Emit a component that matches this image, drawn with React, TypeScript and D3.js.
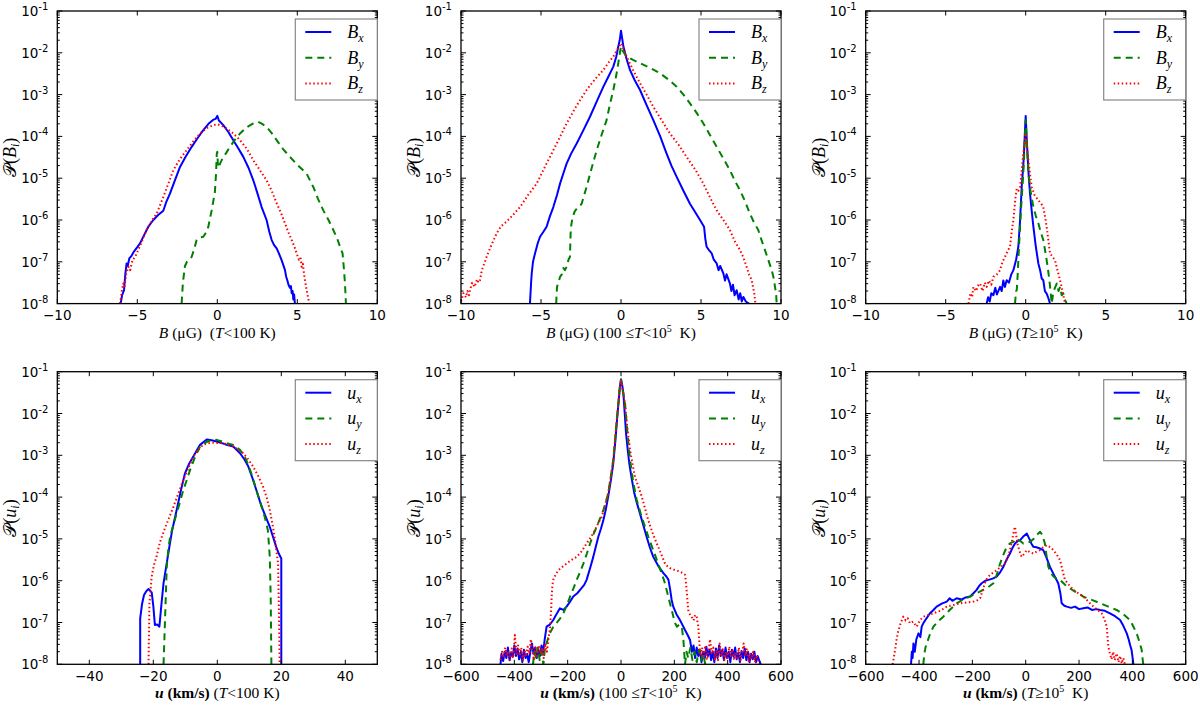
import * as d3 from "d3";

// each point: [value, log10 of the PDF]
type Pt = [number, number];

const B_TICKS = [-10, -5, 0, 5, 10];
const U_COLD_TICKS = [-40, -20, 0, 20, 40];
const U_TICKS = [-600, -400, -200, 0, 200, 400, 600];
const DECADES = [-8, -7, -6, -5, -4, -3, -2, -1];

// T < 100 K, magnetic field
const coldBx: Pt[] = [[-6.04,-8],[-5.95,-7.8],[-5.83,-7.68],[-5.75,-7.3],[-5.67,-7.04],[-5.6,-7.1],[-5.5,-6.92],[-5.35,-6.85],[-5.2,-6.75],[-5.0,-6.65],[-4.83,-6.56],[-4.6,-6.38],[-4.31,-6.16],[-4.0,-6.0],[-3.7,-5.88],[-3.375,-5.78],[-3.2,-5.58],[-2.96,-5.37],[-2.65,-5.05],[-2.33,-4.73],[-2.0,-4.5],[-1.6,-4.25],[-1.25,-4.05],[-0.875,-3.85],[-0.55,-3.7],[-0.25,-3.6],[-0.1,-3.58],[0,-3.51],[0.1,-3.62],[0.375,-3.73],[0.7,-3.9],[1.0,-4.09],[1.3,-4.28],[1.625,-4.49],[1.95,-4.75],[2.25,-5.05],[2.5,-5.35],[2.77,-5.69],[3.08,-6.0],[3.25,-6.28],[3.4,-6.48],[3.55,-6.6],[3.71,-6.68],[3.85,-6.8],[4.02,-6.96],[4.1,-7.05],[4.23,-7.2],[4.3,-7.35],[4.375,-7.44],[4.45,-7.55],[4.54,-7.62],[4.6,-7.58],[4.65,-7.75],[4.71,-7.7],[4.75,-7.9],[4.8,-7.78],[4.85,-8]];
const coldBy: Pt[] = [[-2.23,-8],[-2.15,-7.5],[-2.02,-7.1],[-1.9,-7.0],[-1.75,-6.95],[-1.6,-6.88],[-1.45,-6.7],[-1.29,-6.48],[-1.1,-6.42],[-0.875,-6.4],[-0.7,-6.3],[-0.56,-6.16],[-0.45,-5.95],[-0.35,-5.77],[-0.25,-5.55],[-0.15,-5.33],[-0.08,-4.9],[-0.03,-4.4],[0,-4.37],[0.04,-4.7],[0.1,-4.75],[0.17,-4.65],[0.375,-4.49],[0.55,-4.4],[0.79,-4.25],[1.1,-4.08],[1.42,-3.93],[1.85,-3.78],[2.25,-3.69],[2.56,-3.65],[2.8,-3.7],[3.08,-3.77],[3.4,-3.92],[3.71,-4.09],[4.1,-4.3],[4.54,-4.49],[5.0,-4.68],[5.58,-4.89],[6.0,-5.21],[6.3,-5.5],[6.625,-5.77],[6.95,-6.0],[7.25,-6.24],[7.5,-6.45],[7.67,-6.64],[7.83,-6.8],[7.92,-7.2],[7.98,-7.52],[8.04,-8]];
const coldBz: Pt[] = [[-6.08,-8],[-6.0,-7.8],[-5.95,-7.65],[-5.875,-7.52],[-5.8,-7.6],[-5.7,-7.3],[-5.56,-7.12],[-5.45,-7.2],[-5.3,-6.95],[-5.15,-6.9],[-5.04,-6.8],[-4.8,-6.6],[-4.6,-6.4],[-4.42,-6.24],[-4.1,-6.02],[-3.79,-5.85],[-3.55,-5.62],[-3.375,-5.45],[-3.05,-5.12],[-2.75,-4.81],[-2.35,-4.55],[-1.92,-4.33],[-1.5,-4.12],[-1.08,-3.93],[-0.65,-3.8],[-0.25,-3.73],[0,-3.71],[0.3,-3.75],[0.58,-3.81],[1.0,-3.93],[1.42,-4.09],[1.85,-4.3],[2.25,-4.57],[2.65,-4.8],[3.08,-5.05],[3.4,-5.3],[3.71,-5.6],[4.0,-5.85],[4.23,-6.08],[4.45,-6.3],[4.65,-6.48],[4.8,-6.62],[4.96,-6.8],[5.1,-6.95],[5.2,-6.9],[5.27,-7.12],[5.35,-7.05],[5.42,-7.3],[5.48,-7.44],[5.55,-7.6],[5.625,-7.76],[5.7,-7.9],[5.75,-8]];

// 100 <= T < 1e5 K, magnetic field
const warmBx: Pt[] = [[-5.69,-8],[-5.62,-7.5],[-5.58,-7.28],[-5.5,-7.0],[-5.375,-6.8],[-5.2,-6.55],[-5.06,-6.4],[-4.85,-6.28],[-4.65,-6.16],[-4.45,-5.92],[-4.23,-5.69],[-4.0,-5.4],[-3.81,-5.13],[-3.6,-4.88],[-3.4,-4.65],[-3.1,-4.4],[-2.77,-4.17],[-2.35,-3.85],[-1.94,-3.53],[-1.5,-3.15],[-1.1,-2.81],[-0.8,-2.58],[-0.48,-2.33],[-0.3,-2.1],[-0.17,-1.85],[-0.08,-1.7],[0,-1.47],[0.07,-1.65],[0.15,-1.85],[0.35,-2.15],[0.56,-2.41],[0.85,-2.65],[1.19,-2.89],[1.6,-3.25],[2.02,-3.61],[2.45,-4.0],[2.85,-4.41],[3.15,-4.7],[3.48,-4.97],[3.9,-5.3],[4.31,-5.61],[4.65,-5.82],[4.94,-6.0],[5.19,-6.16],[5.27,-6.45],[5.35,-6.64],[5.5,-6.72],[5.67,-6.8],[5.8,-6.95],[5.98,-7.04],[6.1,-7.2],[6.2,-7.1],[6.4,-7.28],[6.5,-7.45],[6.6,-7.3],[6.81,-7.52],[6.9,-7.7],[7.0,-7.55],[7.1,-7.8],[7.23,-7.68],[7.35,-7.9],[7.45,-7.75],[7.55,-7.95],[7.65,-7.84],[7.8,-7.95],[8.0,-8]];
const warmBy: Pt[] = [[-4.05,-8],[-4.0,-7.6],[-3.9,-7.48],[-3.81,-7.36],[-3.7,-7.3],[-3.6,-7.15],[-3.5,-7.2],[-3.4,-7.12],[-3.28,-6.95],[-3.19,-6.88],[-3.15,-6.32],[-3.1,-6.1],[-3.02,-5.93],[-2.9,-5.8],[-2.77,-5.73],[-2.6,-5.68],[-2.46,-5.61],[-2.3,-5.4],[-2.15,-5.21],[-1.85,-4.78],[-1.52,-4.33],[-1.2,-3.95],[-0.9,-3.61],[-0.7,-3.25],[-0.48,-2.89],[-0.3,-2.55],[-0.17,-2.25],[-0.07,-2.0],[0,-1.85],[0.1,-1.95],[0.35,-2.09],[0.75,-2.17],[1.19,-2.25],[1.8,-2.36],[2.44,-2.49],[3.0,-2.65],[3.48,-2.81],[3.9,-3.0],[4.31,-3.21],[4.75,-3.45],[5.15,-3.69],[5.55,-3.96],[5.98,-4.25],[6.4,-4.53],[6.81,-4.81],[7.1,-5.05],[7.44,-5.29],[7.75,-5.55],[8.06,-5.85],[8.3,-6.05],[8.58,-6.24],[8.8,-6.5],[9.0,-6.72],[9.2,-6.95],[9.42,-7.2],[9.55,-7.4],[9.625,-7.6],[9.7,-7.8],[9.73,-8]];
const warmBz: Pt[] = [[-10,-7.95],[-9.85,-7.75],[-9.69,-7.85],[-9.6,-7.7],[-9.5,-7.8],[-9.44,-7.68],[-9.3,-7.5],[-9.15,-7.6],[-9.0,-7.42],[-8.9,-7.5],[-8.81,-7.44],[-8.7,-7.2],[-8.55,-7.05],[-8.4,-6.88],[-8.1,-6.6],[-7.77,-6.32],[-7.5,-6.15],[-7.15,-6.04],[-6.75,-5.88],[-6.31,-5.69],[-5.8,-5.4],[-5.27,-5.13],[-4.85,-4.8],[-4.44,-4.49],[-3.9,-4.08],[-3.4,-3.69],[-2.8,-3.28],[-2.15,-2.89],[-1.6,-2.62],[-1.1,-2.41],[-0.75,-2.22],[-0.48,-2.09],[-0.2,-1.9],[0,-1.77],[0.15,-1.9],[0.35,-2.09],[0.75,-2.41],[1.19,-2.73],[1.6,-3.0],[2.02,-3.29],[2.55,-3.62],[3.06,-3.93],[3.6,-4.2],[4.1,-4.49],[4.65,-4.8],[5.15,-5.13],[5.55,-5.45],[5.98,-5.77],[6.4,-6.0],[6.81,-6.24],[7.1,-6.5],[7.44,-6.72],[7.65,-6.9],[7.85,-7.12],[8.0,-7.3],[8.17,-7.44],[8.25,-7.6],[8.33,-7.76],[8.4,-8]];

// T >= 1e5 K, magnetic field
const hotBx: Pt[] = [[-2.44,-8],[-2.35,-7.85],[-2.25,-7.95],[-2.15,-7.75],[-2.02,-7.8],[-1.9,-7.62],[-1.8,-7.78],[-1.6,-7.6],[-1.5,-7.7],[-1.4,-7.45],[-1.3,-7.6],[-1.19,-7.44],[-1.05,-7.5],[-0.9,-7.3],[-0.77,-7.2],[-0.6,-6.95],[-0.46,-6.64],[-0.35,-6.0],[-0.25,-5.21],[-0.15,-4.7],[-0.1,-4.33],[-0.05,-3.9],[0,-3.51],[0.05,-3.95],[0.1,-4.33],[0.18,-4.9],[0.27,-5.37],[0.38,-5.8],[0.48,-6.16],[0.62,-6.6],[0.79,-7.04],[0.9,-7.2],[1.0,-7.4],[1.1,-7.44],[1.2,-7.7],[1.31,-7.76],[1.4,-7.85],[1.52,-8]];
const hotBy: Pt[] = [[-0.67,-8],[-0.6,-7.7],[-0.56,-7.68],[-0.5,-7.3],[-0.46,-6.96],[-0.4,-6.5],[-0.31,-5.85],[-0.22,-5.3],[-0.15,-4.89],[-0.07,-4.2],[0,-3.61],[0.08,-4.2],[0.17,-4.89],[0.3,-5.3],[0.48,-5.69],[0.63,-5.9],[0.79,-6.08],[0.95,-6.3],[1.1,-6.48],[1.2,-6.7],[1.31,-6.96],[1.4,-7.2],[1.48,-7.44],[1.55,-7.7],[1.625,-8],[1.7,-7.8],[1.8,-7.65],[1.94,-7.52],[2.05,-7.7],[2.15,-7.6],[2.25,-7.8],[2.35,-7.76],[2.45,-7.9],[2.56,-8]];
const hotBz: Pt[] = [[-3.58,-8],[-3.45,-7.75],[-3.35,-7.85],[-3.27,-7.6],[-3.1,-7.7],[-2.95,-7.55],[-2.85,-7.52],[-2.7,-7.7],[-2.55,-7.5],[-2.44,-7.6],[-2.3,-7.45],[-2.15,-7.55],[-2.02,-7.36],[-1.8,-7.3],[-1.6,-7.2],[-1.45,-7.0],[-1.29,-6.88],[-1.1,-6.72],[-0.98,-6.64],[-0.88,-6.3],[-0.77,-6.0],[-0.65,-5.5],[-0.56,-5.25],[-0.45,-5.3],[-0.35,-5.21],[-0.27,-4.9],[-0.19,-4.57],[-0.1,-4.25],[0,-3.93],[0.08,-4.25],[0.17,-4.57],[0.27,-4.9],[0.375,-5.21],[0.55,-5.4],[0.79,-5.53],[0.95,-5.6],[1.1,-5.69],[1.2,-5.9],[1.31,-6.16],[1.42,-6.5],[1.52,-6.8],[1.68,-6.88],[1.83,-6.96],[1.95,-7.15],[2.04,-7.28],[2.15,-7.45],[2.25,-7.6],[2.35,-7.8],[2.46,-8]];

// T < 100 K, velocity
const coldUx: Pt[] = [[-24.1,-8],[-24.1,-6.9],[-23.5,-6.55],[-22.9,-6.34],[-22.2,-6.25],[-21.5,-6.2],[-20.5,-6.28],[-20.0,-6.6],[-19.5,-7.06],[-18.8,-7.05],[-18.1,-7.1],[-17.5,-6.6],[-16.8,-6.06],[-15.8,-5.58],[-15.0,-5.2],[-14.2,-4.83],[-12.7,-4.31],[-11.4,-3.85],[-10.1,-3.43],[-8.8,-3.2],[-7.5,-3.03],[-5.4,-2.75],[-3.3,-2.62],[-1.8,-2.64],[-0.2,-2.67],[1.5,-2.71],[2.9,-2.75],[5.0,-2.79],[7.1,-2.95],[8.5,-3.1],[9.7,-3.27],[11.0,-3.55],[12.2,-3.83],[13.3,-4.1],[14.3,-4.31],[15.4,-4.52],[16.4,-4.71],[17.4,-4.95],[18.4,-5.19],[19.2,-5.35],[20.0,-5.47],[20.0,-8]];
const coldUy: Pt[] = [[-16.8,-8],[-16.3,-6.86],[-15.8,-5.67],[-15.3,-5.25],[-14.75,-4.95],[-13.7,-4.65],[-12.7,-4.39],[-11.6,-4.1],[-10.6,-3.83],[-9.5,-3.58],[-8.5,-3.35],[-7.0,-3.05],[-5.4,-2.79],[-3.8,-2.7],[-2.3,-2.65],[-0.2,-2.63],[1.5,-2.67],[2.9,-2.71],[5.0,-2.75],[7.1,-2.87],[8.5,-3.02],[9.7,-3.23],[11.0,-3.52],[12.2,-3.83],[13.5,-4.15],[14.8,-4.47],[15.8,-4.79],[16.4,-5.43],[16.7,-6.46],[16.9,-8]];
const coldUz: Pt[] = [[-21.5,-8],[-21.2,-6.54],[-20.5,-5.9],[-19.8,-5.62],[-19.0,-5.43],[-18.0,-5.1],[-16.8,-4.83],[-15.2,-4.52],[-13.7,-4.23],[-12.1,-3.9],[-10.6,-3.59],[-9.0,-3.3],[-7.5,-3.03],[-6.0,-2.87],[-4.4,-2.75],[-2.8,-2.71],[-1.2,-2.7],[1.9,-2.71],[5.0,-2.79],[8.1,-2.95],[9.7,-3.1],[11.2,-3.27],[12.8,-3.5],[14.3,-3.75],[15.4,-4.0],[16.4,-4.31],[17.2,-4.63],[17.9,-4.95],[18.5,-5.3],[19.0,-5.59],[19.3,-6.86],[19.5,-8]];

// 100 <= T < 1e5 K, velocity
const warmUx: Pt[] = [[-452,-8],[-448,-7.75],[-442,-7.92],[-436,-7.7],[-430,-7.85],[-424,-7.6],[-418,-7.9],[-412,-7.72],[-406,-7.82],[-400,-7.55],[-394,-7.8],[-388,-7.62],[-382,-7.88],[-376,-7.7],[-370,-7.95],[-364,-7.65],[-358,-7.85],[-352,-7.75],[-346,-7.95],[-340,-7.7],[-334,-7.5],[-328,-7.75],[-322,-7.6],[-316,-7.85],[-310,-7.65],[-304,-7.8],[-298,-7.55],[-292,-7.72],[-286,-7.4],[-279,-7.1],[-267,-7.05],[-254,-6.94],[-242,-6.8],[-229,-6.66],[-216,-6.7],[-204,-6.62],[-191,-6.5],[-179,-6.38],[-164,-6.3],[-148,-6.18],[-138,-6.1],[-129,-5.98],[-116,-5.7],[-104,-5.43],[-95,-5.2],[-85,-4.95],[-75,-4.75],[-66,-4.55],[-57,-4.3],[-48,-3.99],[-38,-3.6],[-29,-3.19],[-21,-2.65],[-14,-2.08],[-8,-1.65],[-4,-1.36],[0,-1.18],[4,-1.3],[9,-1.52],[14,-2.0],[19,-2.48],[25,-2.85],[31,-3.19],[40,-3.55],[50,-3.91],[60,-4.15],[71,-4.39],[84,-4.68],[96,-4.95],[108,-5.2],[121,-5.43],[140,-5.65],[159,-5.82],[170,-5.9],[178,-5.98],[184,-6.2],[190,-6.46],[196,-6.62],[208,-6.8],[221,-6.94],[230,-7.05],[240,-7.18],[250,-7.3],[259,-7.42],[266,-7.7],[272,-7.55],[278,-7.85],[284,-7.6],[290,-7.8],[296,-7.68],[302,-7.95],[308,-7.7],[314,-7.85],[320,-7.58],[326,-7.8],[332,-7.65],[338,-7.9],[344,-7.7],[350,-7.95],[356,-7.62],[362,-7.85],[368,-7.55],[374,-7.8],[380,-7.65],[386,-7.9],[392,-7.6],[398,-7.85],[404,-7.7],[410,-7.95],[416,-7.65],[422,-7.82],[428,-7.6],[434,-7.88],[440,-7.72],[446,-7.95],[452,-7.68],[458,-7.85],[464,-7.62],[470,-7.9],[476,-7.7],[482,-7.95],[488,-7.75],[494,-7.88],[500,-7.7],[506,-7.95],[512,-7.8],[518,-7.9],[524,-8]];
const warmUy: Pt[] = [[-330,-8],[-325,-7.7],[-318,-7.85],[-312,-7.6],[-305,-7.9],[-298,-7.7],[-291,-8],[-285,-7.6],[-279,-7.5],[-270,-7.3],[-262,-7.2],[-254,-7.1],[-240,-7.0],[-228,-6.9],[-216,-6.78],[-204,-6.6],[-191,-6.38],[-178,-6.18],[-166,-5.98],[-154,-5.8],[-141,-5.59],[-128,-5.35],[-116,-5.11],[-104,-4.9],[-91,-4.71],[-78,-4.5],[-66,-4.31],[-57,-4.12],[-48,-3.91],[-38,-3.5],[-29,-3.11],[-20,-2.45],[-10,-1.76],[-5,-1.4],[0,-1.2],[5,-1.4],[15,-1.76],[24,-2.45],[34,-3.11],[46,-3.65],[59,-4.07],[74,-4.4],[90,-4.71],[105,-5.0],[121,-5.27],[137,-5.55],[152,-5.82],[162,-6.0],[171,-6.22],[180,-6.45],[190,-6.7],[196,-6.85],[203,-7.02],[210,-7.1],[218,-7.05],[228,-7.1],[234,-7.42],[240,-8],[246,-7.7],[252,-7.85],[260,-7.6],[268,-7.9],[276,-7.7],[284,-7.95],[292,-7.65],[300,-7.9],[308,-7.75],[316,-8]];
const warmUz: Pt[] = [[-452,-7.9],[-446,-7.7],[-440,-7.85],[-434,-7.6],[-428,-7.8],[-422,-7.68],[-416,-7.9],[-410,-7.62],[-404,-7.85],[-398,-7.3],[-392,-7.75],[-386,-7.55],[-380,-7.8],[-374,-7.6],[-368,-7.9],[-362,-7.65],[-356,-7.82],[-350,-7.58],[-344,-7.75],[-338,-7.4],[-332,-7.7],[-326,-7.9],[-320,-7.6],[-314,-7.8],[-308,-7.55],[-302,-7.75],[-296,-7.6],[-290,-7.85],[-284,-7.5],[-278,-7.7],[-272,-7.4],[-266,-7.1],[-262,-6.7],[-260,-6.38],[-257,-6.1],[-254,-5.98],[-245,-5.85],[-235,-5.75],[-220,-5.67],[-204,-5.59],[-185,-5.5],[-166,-5.43],[-148,-5.3],[-129,-5.11],[-112,-4.95],[-98,-4.79],[-85,-4.62],[-72,-4.47],[-60,-4.2],[-48,-3.91],[-38,-3.5],[-29,-3.11],[-20,-2.45],[-10,-1.76],[-5,-1.4],[0,-1.2],[5,-1.4],[15,-1.76],[24,-2.35],[34,-2.87],[43,-3.2],[52,-3.51],[65,-3.75],[78,-3.99],[90,-4.27],[102,-4.55],[118,-4.85],[134,-5.11],[150,-5.35],[165,-5.59],[175,-5.66],[184,-5.7],[200,-5.74],[221,-5.78],[232,-5.82],[240,-5.86],[243,-6.0],[246,-6.22],[249,-6.45],[252,-6.7],[258,-6.8],[265,-6.86],[272,-6.95],[278,-6.82],[284,-6.86],[287,-7.0],[290,-7.1],[294,-7.5],[298,-7.8],[304,-7.6],[310,-7.85],[316,-7.55],[322,-7.9],[328,-7.7],[334,-7.4],[340,-7.75],[346,-7.6],[352,-7.88],[358,-7.65],[364,-7.9],[370,-7.5],[376,-7.8],[382,-7.62],[388,-7.9],[394,-7.7],[400,-7.85],[406,-7.58],[412,-7.8],[418,-7.65],[424,-7.9],[430,-7.7],[436,-7.85],[442,-7.6],[448,-7.9],[454,-7.72],[460,-7.5],[466,-7.8],[472,-7.62],[478,-7.95],[484,-7.75],[490,-7.88],[496,-7.7],[502,-7.95],[508,-7.78],[514,-7.9],[520,-8]];

// T >= 1e5 K, velocity
const hotUx: Pt[] = [[-430,-8],[-427,-7.7],[-424,-7.85],[-421,-7.5],[-416,-7.7],[-410,-7.4],[-402,-7.26],[-395,-7.35],[-390,-7.1],[-384,-7.02],[-372,-6.9],[-359,-6.78],[-346,-6.7],[-334,-6.62],[-315,-6.55],[-296,-6.5],[-285,-6.42],[-275,-6.48],[-259,-6.42],[-240,-6.45],[-225,-6.4],[-209,-6.38],[-196,-6.3],[-184,-6.22],[-174,-6.12],[-165,-6.06],[-152,-6.0],[-140,-5.98],[-124,-5.95],[-109,-5.9],[-96,-5.8],[-84,-5.67],[-72,-5.5],[-59,-5.35],[-50,-5.22],[-40,-5.11],[-30,-5.05],[-21,-5.03],[-10,-4.95],[4,-4.87],[10,-4.95],[16,-5.03],[22,-5.12],[29,-5.19],[40,-5.2],[54,-5.23],[66,-5.27],[78,-5.45],[91,-5.67],[105,-5.85],[122,-6.06],[130,-6.3],[135,-6.54],[145,-6.6],[154,-6.62],[170,-6.65],[185,-6.62],[200,-6.68],[216,-6.66],[232,-6.64],[248,-6.7],[265,-6.68],[279,-6.7],[297,-6.72],[316,-6.78],[335,-6.85],[354,-6.94],[366,-7.08],[379,-7.26],[386,-7.4],[392,-7.55],[397,-7.66],[400,-7.8],[404,-8]];
const hotUy: Pt[] = [[-384,-8],[-380,-7.75],[-376,-7.6],[-371,-7.5],[-360,-7.3],[-346,-7.1],[-330,-6.98],[-309,-6.86],[-285,-6.7],[-259,-6.54],[-235,-6.45],[-209,-6.38],[-185,-6.3],[-159,-6.22],[-140,-6.15],[-121,-6.06],[-108,-5.85],[-96,-5.59],[-84,-5.38],[-71,-5.19],[-58,-5.1],[-46,-5.07],[-34,-4.99],[-20,-5.05],[-9,-5.11],[4,-5.1],[16,-5.07],[30,-5.0],[42,-4.9],[54,-4.83],[62,-4.9],[72,-5.11],[78,-5.4],[85,-5.67],[95,-5.82],[104,-5.9],[115,-5.95],[129,-5.98],[140,-6.05],[154,-6.14],[185,-6.26],[216,-6.38],[248,-6.46],[279,-6.54],[310,-6.62],[341,-6.7],[366,-6.8],[391,-6.94],[404,-7.1],[416,-7.26],[426,-7.45],[435,-7.66],[438,-7.85],[441,-8]];
const hotUz: Pt[] = [[-499,-8],[-495,-7.85],[-490,-7.66],[-484,-7.4],[-477,-7.18],[-468,-7.0],[-459,-6.86],[-450,-6.95],[-442,-6.9],[-434,-7.02],[-422,-6.98],[-409,-7.1],[-397,-6.95],[-384,-6.86],[-365,-6.82],[-346,-6.78],[-320,-6.72],[-296,-6.62],[-270,-6.58],[-246,-6.54],[-220,-6.52],[-196,-6.5],[-184,-6.48],[-171,-6.42],[-160,-6.2],[-150,-6.0],[-140,-5.9],[-125,-5.82],[-109,-5.75],[-94,-5.67],[-78,-5.59],[-68,-5.45],[-59,-5.27],[-50,-5.0],[-44,-4.8],[-40,-4.71],[-36,-4.9],[-31,-5.11],[-23,-5.3],[-15,-5.43],[-5,-5.35],[4,-5.27],[16,-5.32],[29,-5.35],[42,-5.3],[54,-5.27],[66,-5.2],[79,-5.15],[92,-5.2],[104,-5.27],[117,-5.38],[129,-5.51],[138,-5.75],[147,-5.98],[162,-6.1],[179,-6.22],[197,-6.3],[216,-6.38],[235,-6.5],[254,-6.62],[270,-6.7],[285,-6.78],[295,-6.92],[304,-7.1],[307,-7.35],[310,-7.58],[316,-7.75],[322,-7.88],[328,-7.7],[334,-7.9],[341,-7.74],[348,-7.95],[354,-7.8],[360,-7.98],[366,-7.85],[372,-8]];

const COLORS = ["#0000ff", "#008000", "#ff0000"];
const DASHES = ["none", "7,5", "1.5,2.5"];
const COMPONENTS = ["x", "y", "z"];

const COL_X = [57.3, 461, 865.7];
const ROW_Y = [11, 371.7];
const PW = 320;
const PH = 292.6;

const TICK_FONT = "DejaVu Sans";
const SERIF = "Liberation Serif, DejaVu Serif, serif";

type LabelKind = "cold" | "warm" | "hot";

const panels = [
  { row: 0, col: 0, domain: [-10, 10], ticks: B_TICKS, series: [coldBx, coldBy, coldBz], sym: "B", kind: "cold" as LabelKind },
  { row: 0, col: 1, domain: [-10, 10], ticks: B_TICKS, series: [warmBx, warmBy, warmBz], sym: "B", kind: "warm" as LabelKind },
  { row: 0, col: 2, domain: [-10, 10], ticks: B_TICKS, series: [hotBx, hotBy, hotBz], sym: "B", kind: "hot" as LabelKind },
  { row: 1, col: 0, domain: [-50, 50], ticks: U_COLD_TICKS, series: [coldUx, coldUy, coldUz], sym: "u", kind: "cold" as LabelKind },
  { row: 1, col: 1, domain: [-600, 600], ticks: U_TICKS, series: [warmUx, warmUy, warmUz], sym: "u", kind: "warm" as LabelKind },
  { row: 1, col: 2, domain: [-600, 600], ticks: U_TICKS, series: [hotUx, hotUy, hotUz], sym: "u", kind: "hot" as LabelKind },
];

const fmt = (v: number) => (v < 0 ? "\u2212" + Math.abs(v) : String(v));

function TempPart({ kind }: { kind: LabelKind }) {
  if (kind === "cold")
    return (
      <>
        (<tspan fontStyle="italic">T</tspan>{"<100 K)"}
      </>
    );
  if (kind === "warm")
    return (
      <>
        {"(100 \u2264"}<tspan fontStyle="italic">T</tspan>{"<10"}
        <tspan dy={-6} fontSize={10}>5</tspan>
        <tspan dy={6}>{"  K)"}</tspan>
      </>
    );
  return (
    <>
      (<tspan fontStyle="italic">T</tspan>{"\u226510"}
      <tspan dy={-6} fontSize={10}>5</tspan>
      <tspan dy={6}>{"  K)"}</tspan>
    </>
  );
}

function Panel({ p, idx }: { p: (typeof panels)[number]; idx: number }) {
  const x0 = COL_X[p.col];
  const y0 = ROW_Y[p.row];
  const x = d3.scaleLinear().domain(p.domain).range([x0, x0 + PW]);
  const y = d3.scaleLog().domain([1e-8, 1e-1]).range([y0 + PH, y0]);
  const line = d3
    .line<Pt>()
    .x((d) => x(d[0]))
    .y((d) => y(Math.pow(10, d[1])));

  const minor: number[] = [];
  DECADES.slice(0, -1).forEach((d) => {
    for (let k = 2; k <= 9; k++) minor.push(k * Math.pow(10, d));
  });

  const clipId = `clip-${idx}`;
  const lx = x0 + PW - 90;
  const ly = y0 + 8;

  return (
    <g>
      <defs>
        <clipPath id={clipId}>
          <rect x={x0} y={y0} width={PW} height={PH} />
        </clipPath>
      </defs>

      <g clipPath={`url(#${clipId})`}>
        {p.series.map((s, i) => (
          <path
            key={i}
            d={line(s) || ""}
            fill="none"
            stroke={COLORS[i]}
            strokeWidth={2}
            strokeDasharray={DASHES[i]}
            strokeLinejoin="round"
          />
        ))}
      </g>

      {/* ticks */}
      {p.ticks.map((t) => (
        <g key={"xt" + t}>
          <line x1={x(t)} x2={x(t)} y1={y0 + PH} y2={y0 + PH - 4.5} stroke="#000" />
          <line x1={x(t)} x2={x(t)} y1={y0} y2={y0 + 4.5} stroke="#000" />
          <text x={x(t)} y={y0 + PH + 16.5} textAnchor="middle" fontFamily={TICK_FONT} fontSize={13.5}>
            {fmt(t)}
          </text>
        </g>
      ))}
      {DECADES.map((d) => (
        <g key={"yt" + d}>
          <line x1={x0} x2={x0 + 5} y1={y(Math.pow(10, d))} y2={y(Math.pow(10, d))} stroke="#000" />
          <line x1={x0 + PW} x2={x0 + PW - 5} y1={y(Math.pow(10, d))} y2={y(Math.pow(10, d))} stroke="#000" />
          <text x={x0 - 9} y={y(Math.pow(10, d)) + 5} textAnchor="end" fontFamily={TICK_FONT} fontSize={13.5}>
            10<tspan dy={-6} fontSize={10}>{String(d)}</tspan>
          </text>
        </g>
      ))}
      {minor.map((m, i) => (
        <g key={"mt" + i}>
          <line x1={x0} x2={x0 + 2.5} y1={y(m)} y2={y(m)} stroke="#000" />
          <line x1={x0 + PW} x2={x0 + PW - 2.5} y1={y(m)} y2={y(m)} stroke="#000" />
        </g>
      ))}

      <rect x={x0} y={y0} width={PW} height={PH} fill="none" stroke="#000" strokeWidth={1.3} />

      {/* axis labels */}
      <text
        x={x0 + PW / 2}
        y={y0 + PH + 34}
        textAnchor="middle"
        fontFamily={SERIF}
        fontSize={15.5}
        style={{ whiteSpace: "pre" }}
      >
        <tspan fontStyle="italic" fontWeight={p.sym === "u" ? "bold" : "normal"}>{p.sym}</tspan>
        {p.sym === "B" ? (
          <tspan>{" (\u03bcG)" + (p.kind === "cold" ? "  " : " ")}</tspan>
        ) : (
          <tspan fontWeight="bold">{" (km/s) "}</tspan>
        )}
        <TempPart kind={p.kind} />
      </text>
      <text
        transform={`translate(${x0 - 41},${y0 + PH / 2}) rotate(-90)`}
        textAnchor="middle"
        fontFamily={SERIF}
        fontSize={18}
      >
        <tspan>{"\u{1D4AB}"}</tspan>(<tspan fontStyle="italic">{p.sym}</tspan>
        <tspan dy={3} fontSize={12} fontStyle="italic">i</tspan>
        <tspan dy={-3}>)</tspan>
      </text>

      {/* legend */}
      <rect x={lx + 8} y={ly} width={82} height={81} fill="#fff" stroke="#888" strokeWidth={1.2} />
      {COMPONENTS.map((c, i) => {
        const ry = ly + 13 + i * 25.7;
        return (
          <g key={c}>
            <line
              x1={lx + 18}
              x2={lx + 44}
              y1={ry}
              y2={ry}
              stroke={COLORS[i]}
              strokeWidth={2}
              strokeDasharray={DASHES[i]}
            />
            <text x={lx + 60} y={ry + 6} fontFamily={SERIF} fontSize={18} fontStyle="italic">
              {p.sym}
              <tspan dy={4} fontSize={12}>{c}</tspan>
            </text>
          </g>
        );
      })}
    </g>
  );
}

export default function App() {
  return (
    <div style={{ position: "absolute", left: 0, top: 0, background: "#fff" }}>
      <svg width={1200} height={705} viewBox="0 0 1200 705">
        <rect width={1200} height={705} fill="#fff" />
        {panels.map((p, i) => (
          <Panel key={i} p={p} idx={i} />
        ))}
      </svg>
    </div>
  );
}
